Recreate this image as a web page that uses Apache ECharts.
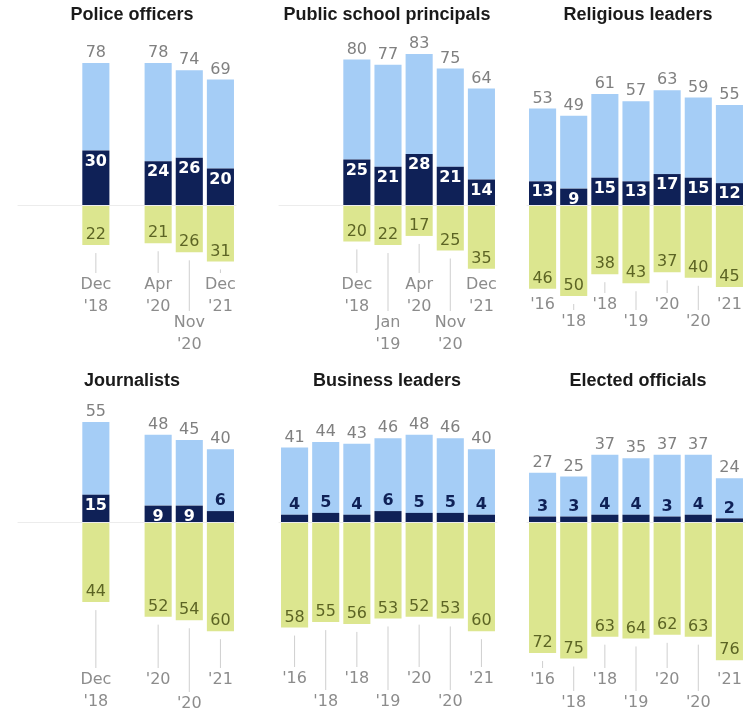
<!DOCTYPE html>
<html>
<head>
<meta charset="utf-8">
<script src="https://cdn.jsdelivr.net/npm/echarts@6/dist/echarts.min.js"></script>
<style>
  html, body { margin: 0; background: #fff; }
  #chart { width: 751px; height: 710px; }
</style>
</head>
<body>
<div id="chart"></div>
<script>
// every panel has seven time slots; "" / null = no survey in that slot
const policeDates = ["", "", "Dec\n'18", "", "Apr\n'20", "Nov\n'20", "Dec\n'21"];
const policeTotal = [null, null, 78, null, 78, 74, 69];
const policeGreatDeal = [null, null, 30, null, 24, 26, 20];
const policeLittle = [null, null, 22, null, 21, 26, 31];

const principalsDates = ["", "", "Dec\n'18", "Jan\n'19", "Apr\n'20", "Nov\n'20", "Dec\n'21"];
const principalsTotal = [null, null, 80, 77, 83, 75, 64];
const principalsGreatDeal = [null, null, 25, 21, 28, 21, 14];
const principalsLittle = [null, null, 20, 22, 17, 25, 35];

const religiousDates = ["'16", "'18", "'18", "'19", "'20", "'20", "'21"];
const religiousTotal = [53, 49, 61, 57, 63, 59, 55];
const religiousGreatDeal = [13, 9, 15, 13, 17, 15, 12];
const religiousLittle = [46, 50, 38, 43, 37, 40, 45];

const journalistsDates = ["", "", "Dec\n'18", "", "'20", "'20", "'21"];
const journalistsTotal = [null, null, 55, null, 48, 45, 40];
const journalistsGreatDeal = [null, null, 15, null, 9, 9, 6];
const journalistsLittle = [null, null, 44, null, 52, 54, 60];

const businessDates = ["'16", "'18", "'18", "'19", "'20", "'20", "'21"];
const businessTotal = [41, 44, 43, 46, 48, 46, 40];
const businessGreatDeal = [4, 5, 4, 6, 5, 5, 4];
const businessLittle = [58, 55, 56, 53, 52, 53, 60];

const electedDates = ["'16", "'18", "'18", "'19", "'20", "'20", "'21"];
const electedTotal = [27, 25, 37, 35, 37, 37, 24];
const electedGreatDeal = [3, 3, 4, 4, 3, 4, 2];
const electedLittle = [72, 75, 63, 64, 62, 63, 76];

const panels = [
  { title: "Police officers", dates: policeDates, total: policeTotal, great: policeGreatDeal, little: policeLittle },
  { title: "Public school principals", dates: principalsDates, total: principalsTotal, great: principalsGreatDeal, little: principalsLittle },
  { title: "Religious leaders", dates: religiousDates, total: religiousTotal, great: religiousGreatDeal, little: religiousLittle },
  { title: "Journalists", dates: journalistsDates, total: journalistsTotal, great: journalistsGreatDeal, little: journalistsLittle },
  { title: "Business leaders", dates: businessDates, total: businessTotal, great: businessGreatDeal, little: businessLittle },
  { title: "Elected officials", dates: electedDates, total: electedTotal, great: electedGreatDeal, little: electedLittle },
];

// layout
const SCALE = 1.82; // px per percentage point
const colLeft = [18, 279, 527];
const colCenter = [132, 387, 638];
const rowZero = [205, 522];
const rowTitleTop = [6, 372];
// offset of the first date line from the zero line, and extra drop for odd slots
const dateLayout = [
  { dy: 80, stagger: 38 }, { dy: 80, stagger: 38 }, { dy: 100, stagger: 17 },
  { dy: 158, stagger: 24 }, { dy: 157, stagger: 23 }, { dy: 158, stagger: 23 },
];

const NAVY = "#0f2157";
const LIGHT = "#a5cdf6";
const GREEN = "#dce68f";
const FONT = "DejaVu Sans";

const option = { animation: false, title: [], grid: [], xAxis: [], yAxis: [], series: [] };

panels.forEach((p, i) => {
  const col = i % 3, row = Math.floor(i / 3);
  const dl = dateLayout[i];

  option.title.push({
    text: p.title, left: colCenter[col], top: rowTitleTop[row], textAlign: "center", padding: 0,
    textStyle: { fontFamily: "Liberation Sans", fontWeight: "bold", fontSize: 18, color: "#1a1a1a" },
  });
  option.grid.push({ left: colLeft[col], width: 218, top: rowZero[row] - 90 * SCALE, height: 180 * SCALE });
  option.xAxis.push({
    type: "category", gridIndex: i, data: p.dates.map((d, k) => String(k)), z: 10,
    axisLabel: { show: false }, axisTick: { show: false },
    axisLine: { onZero: true, lineStyle: { color: "#ececec", width: 1 } },
  });
  option.yAxis.push({ type: "value", gridIndex: i, min: -90, max: 90, show: false });

  // "a great deal" (dark part of the blue bar)
  option.series.push({
    type: "bar", xAxisIndex: i, yAxisIndex: i, stack: "s" + i, z: 3, barCategoryGap: "13%",
    itemStyle: { color: NAVY },
    label: { show: true, fontFamily: FONT, fontSize: 16, fontWeight: "bold" },
    data: p.great.map(v => v == null ? "-" : {
      value: v,
      label: v >= 9
        ? { position: "insideTop", distance: 3, color: "#fff" }
        : { position: "top", distance: 2, color: NAVY },
    }),
  });
  // rest of "a great deal / fair amount" (light blue), labelled with the total
  option.series.push({
    type: "bar", xAxisIndex: i, yAxisIndex: i, stack: "s" + i, z: 2, barCategoryGap: "13%",
    itemStyle: { color: LIGHT },
    label: {
      show: true, position: "top", distance: 2, fontFamily: FONT, fontSize: 16, color: "#808080",
      formatter: prm => p.total[prm.dataIndex],
    },
    data: p.total.map((t, k) => t == null ? "-" : t - p.great[k]),
  });
  // "not too much / no confidence" (below zero)
  option.series.push({
    type: "bar", xAxisIndex: i, yAxisIndex: i, stack: "s" + i, z: 2, barCategoryGap: "13%",
    itemStyle: { color: GREEN },
    label: {
      show: true, position: "insideBottom", distance: 2, fontFamily: FONT, fontSize: 16, color: "#5c6424",
      formatter: prm => Math.abs(prm.value),
    },
    data: p.little.map(v => v == null ? "-" : -v),
  });
  // date labels with leader lines
  option.series.push({
    type: "custom", xAxisIndex: i, yAxisIndex: i, z: 1, silent: true,
    data: p.dates.map((d, k) => d ? [k, -p.little[k]] : null).filter(Boolean),
    renderItem(params, api) {
      const slot = api.value(0);
      const zero = api.coord([slot, 0]);
      const bottom = api.coord([slot, api.value(1)]);
      const textTop = zero[1] + dl.dy - 11 + (slot % 2 ? dl.stagger : 0);
      const children = [{
        type: "text", x: zero[0], y: textTop,
        style: {
          text: p.dates[slot], align: "center", verticalAlign: "top",
          fontFamily: FONT, fontSize: 16, lineHeight: 22, fill: "#8c8c8c",
        },
      }];
      const y1 = bottom[1] + 8, y2 = textTop - 1;
      if (y2 - y1 > 3) {
        children.push({
          type: "line", shape: { x1: zero[0], y1, x2: zero[0], y2 },
          style: { stroke: "#cfcfcf", lineWidth: 1 },
        });
      }
      return { type: "group", children };
    },
  });
});

const chart = echarts.init(document.getElementById("chart"), null, { renderer: "canvas" });
chart.setOption(option);
</script>
</body>
</html>
